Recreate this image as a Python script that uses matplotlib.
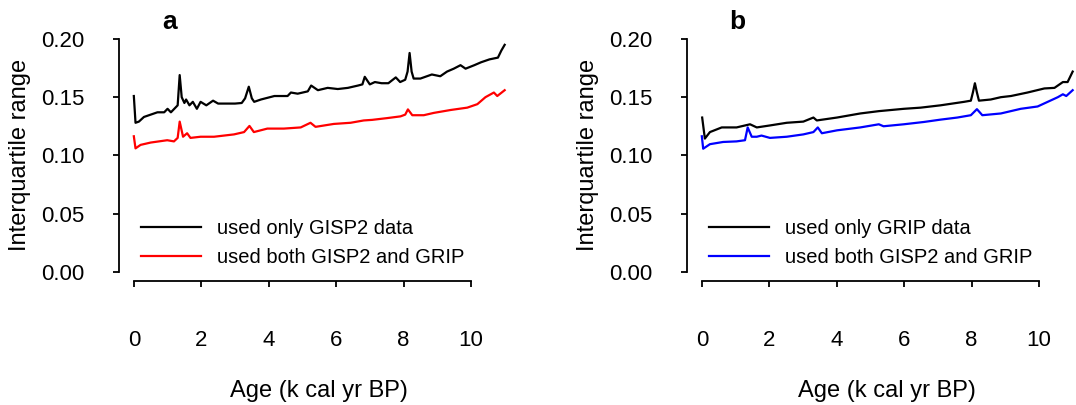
import matplotlib
matplotlib.use("Agg")
import matplotlib.pyplot as plt

plt.rcParams["font.family"] = ["Liberation Sans", "DejaVu Sans"]

# Panel a: GISP2-only vs combined GISP2+GRIP interquartile range
age_a_gisp2 = [0.00, 0.05, 0.15, 0.30, 0.50, 0.70, 0.90, 1.00, 1.10, 1.20, 1.30, 1.36, 1.42,
               1.50, 1.55, 1.65, 1.75, 1.87, 1.98, 2.15, 2.35, 2.50, 2.80, 3.00, 3.20, 3.30,
               3.41, 3.50, 3.57, 3.77, 4.17, 4.56, 4.66, 4.86, 5.16, 5.26, 5.46, 5.75, 6.05,
               6.35, 6.65, 6.78, 6.85, 7.00, 7.15, 7.35, 7.55, 7.77, 7.90, 8.05, 8.12, 8.18,
               8.24, 8.30, 8.50, 8.84, 9.09, 9.29, 9.49, 9.69, 9.84, 10.10, 10.30, 10.55,
               10.80, 10.90, 11.00]
iqr_a_gisp2 = [0.151, 0.128, 0.129, 0.133, 0.135, 0.137, 0.137, 0.140, 0.137, 0.140, 0.143, 0.169, 0.150,
               0.145, 0.148, 0.143, 0.146, 0.140, 0.146, 0.143, 0.147, 0.1445, 0.1445, 0.1445, 0.145, 0.149,
               0.159, 0.149, 0.146, 0.148, 0.151, 0.151, 0.154, 0.153, 0.155, 0.160, 0.156, 0.158, 0.157,
               0.158, 0.160, 0.161, 0.1675, 0.161, 0.163, 0.162, 0.162, 0.167, 0.163, 0.165, 0.172, 0.188,
               0.172, 0.166, 0.166, 0.1695, 0.168, 0.172, 0.1745, 0.1775, 0.1745, 0.1775, 0.180, 0.1825,
               0.184, 0.190, 0.195]

age_a_both = [0.00, 0.05, 0.20, 0.50, 0.99, 1.19, 1.30, 1.36, 1.46, 1.58, 1.68, 1.98, 2.38,
              2.97, 3.27, 3.43, 3.56, 3.96, 4.45, 4.95, 5.24, 5.39, 5.93, 6.43, 6.82, 7.07,
              7.51, 7.91, 8.05, 8.13, 8.26, 8.60, 8.90, 9.40, 9.89, 10.19, 10.43, 10.68,
              10.78, 11.00]
iqr_a_both = [0.1164, 0.106, 0.109, 0.111, 0.113, 0.112, 0.115, 0.129, 0.116, 0.119, 0.115, 0.116, 0.116,
              0.118, 0.120, 0.1253, 0.120, 0.123, 0.123, 0.124, 0.128, 0.1245, 0.127, 0.128, 0.130, 0.1305,
              0.132, 0.1335, 0.135, 0.1395, 0.1345, 0.1345, 0.1365, 0.139, 0.141, 0.144, 0.150, 0.154,
              0.151, 0.156]

# Panel b: GRIP-only vs combined GISP2+GRIP interquartile range
age_b_grip = [0.01, 0.09, 0.24, 0.59, 1.03, 1.43, 1.63, 2.02, 2.52, 3.01, 3.31, 3.41, 4.01,
              4.70, 5.25, 5.99, 6.49, 7.08, 7.78, 7.98, 8.04, 8.10, 8.16, 8.22, 8.57, 8.87,
              9.17, 9.66, 10.16, 10.46, 10.71, 10.85, 11.00]
iqr_b_grip = [0.1325, 0.1144, 0.120, 0.124, 0.124, 0.1267, 0.124, 0.1257, 0.128, 0.129, 0.1325, 0.130, 0.1325,
              0.136, 0.138, 0.140, 0.141, 0.143, 0.146, 0.147, 0.154, 0.162, 0.154, 0.147, 0.148, 0.150,
              0.151, 0.154, 0.1575, 0.158, 0.163, 0.163, 0.172]

age_b_both = [0.00, 0.04, 0.24, 0.63, 1.03, 1.28, 1.36, 1.48, 1.63, 1.77, 2.02, 2.52, 3.01,
              3.31, 3.44, 3.56, 4.01, 4.70, 5.25, 5.39, 5.99, 6.59, 7.08, 7.58, 7.98, 8.16,
              8.32, 8.87, 9.46, 9.96, 10.26, 10.56, 10.71, 10.81, 11.00]
iqr_b_both = [0.1164, 0.1057, 0.1096, 0.1115, 0.112, 0.113, 0.124, 0.116, 0.116, 0.117, 0.115, 0.116, 0.118,
              0.120, 0.124, 0.119, 0.1215, 0.124, 0.1267, 0.125, 0.1267, 0.1287, 0.1307, 0.1325, 0.1345, 0.1397,
              0.1345, 0.136, 0.140, 0.142, 0.146, 0.150, 0.1525, 0.151, 0.156]

x_ticks = [0, 2, 4, 6, 8, 10]
y_ticks = [0.00, 0.05, 0.10, 0.15, 0.20]
y_tick_labels = ["0.00", "0.05", "0.10", "0.15", "0.20"]

W, H = 1076, 405
fig = plt.figure(figsize=(W / 100, H / 100), dpi=100)

TICK_FS = 16
LABEL_FS = 17
LEGEND_FS = 14.5
LW = 1.6


def make_axes(left_px):
    # axes box in pixel units converted to figure fractions
    ax = fig.add_axes([left_px / W, (H - 281) / H, 400.5 / W, 251.3 / H])
    ax.set_xlim(-0.44, 11.44)
    ax.set_ylim(-0.008, 0.208)
    for s in ("top", "right"):
        ax.spines[s].set_visible(False)
    ax.spines["left"].set_bounds(0, 0.2)
    ax.spines["bottom"].set_bounds(0, 10)
    ax.spines["left"].set_linewidth(1.3)
    ax.spines["bottom"].set_linewidth(1.3)
    ax.set_xticks(x_ticks)
    ax.set_xticklabels([str(t) for t in x_ticks])
    ax.set_yticks(y_ticks)
    ax.set_yticklabels(y_tick_labels)
    ax.tick_params(axis="both", direction="out", length=4, width=1.3, labelsize=TICK_FS)
    ax.tick_params(axis="x", pad=31)
    ax.tick_params(axis="y", pad=21)
    ax.set_xlabel("Age (k cal yr BP)", fontsize=LABEL_FS, labelpad=21)
    ax.set_ylabel("Interquartile range", fontsize=LABEL_FS, labelpad=7)
    return ax


ax_a = make_axes(119)
ax_a.plot(age_a_gisp2, iqr_a_gisp2, color="black", lw=LW, label="used only GISP2 data")
ax_a.plot(age_a_both, iqr_a_both, color="red", lw=LW, label="used both GISP2 and GRIP")
ax_a.text(0.127, 1.03, "a", transform=ax_a.transAxes, fontsize=19, fontweight="bold",
          ha="center", va="center")

ax_b = make_axes(687)
ax_b.plot(age_b_grip, iqr_b_grip, color="black", lw=LW, label="used only GRIP data")
ax_b.plot(age_b_both, iqr_b_both, color="blue", lw=LW, label="used both GISP2 and GRIP")
ax_b.text(0.125, 1.03, "b", transform=ax_b.transAxes, fontsize=19, fontweight="bold",
          ha="center", va="center")

for ax in (ax_a, ax_b):
    ax.legend(loc="lower left", bbox_to_anchor=(0.035, 0.022), frameon=False, fontsize=LEGEND_FS,
              handlelength=3.0, handletextpad=0.75, labelspacing=0.5, borderaxespad=0.0)

fig.savefig("out.png", dpi=100)
